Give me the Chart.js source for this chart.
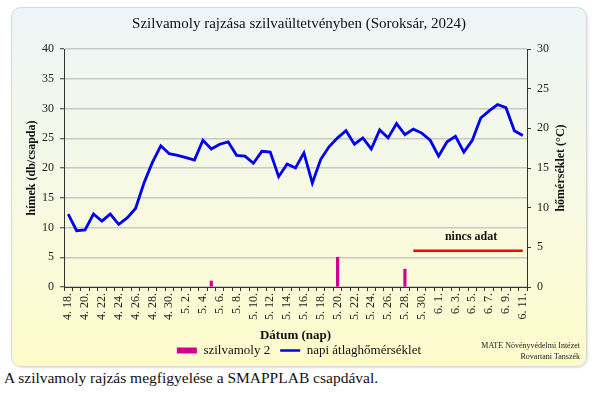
<!DOCTYPE html>
<html lang="hu">
<head>
<meta charset="utf-8">
<script src="https://cdn.jsdelivr.net/npm/chart.js@4.4.1/dist/chart.umd.min.js"></script>
<style>
  html, body { margin: 0; padding: 0; background: #fff; }
  body { width: 605px; height: 393px; position: relative; overflow: hidden; font-family: "Liberation Serif", serif; }
  #frame {
    position: absolute; left: 11px; top: 7px; width: 576px; height: 360px;
    box-sizing: border-box; border: 1px solid #d9d9d9; border-radius: 10px;
    background: linear-gradient(to bottom, #edf5f8 0%, #f6f9e4 50%, #fefccb 100%);
    box-shadow: 1px 1px 2px rgba(0,0,0,0.12);
  }
  #chartBox { position: absolute; left: 11px; top: 7px; width: 576px; height: 360px; }
  #credit {
    position: absolute; right: 25px; top: 340px; text-align: right;
    font-size: 8px; line-height: 11px; color: #222;
  }
  #caption {
    position: absolute; left: 4px; top: 369px; font-size: 15.5px; color: #111; white-space: nowrap;
  }
</style>
</head>
<body>
<div id="frame"></div>
<div id="chartBox"><canvas id="mothChart" width="576" height="360"></canvas></div>
<div id="credit">MATE Növényvédelmi Intézet<br>Rovartani Tanszék</div>
<div id="caption">A szilvamoly rajzás megfigyelése a SMAPPLAB csapdával.</div>

<script>
const FONT = '"Liberation Serif", "Times New Roman", serif';

// napok 4.18 - 6.11
const dates = [
  '4. 18.', '4. 19.', '4. 20.', '4. 21.', '4. 22.', '4. 23.', '4. 24.', '4. 25.', '4. 26.', '4. 27.',
  '4. 28.', '4. 29.', '4. 30.', '5. 1.', '5. 2.', '5. 3.', '5. 4.', '5. 5.', '5. 6.', '5. 7.',
  '5. 8.', '5. 9.', '5. 10.', '5. 11.', '5. 12.', '5. 13.', '5. 14.', '5. 15.', '5. 16.', '5. 17.',
  '5. 18.', '5. 19.', '5. 20.', '5. 21.', '5. 22.', '5. 23.', '5. 24.', '5. 25.', '5. 26.', '5. 27.',
  '5. 28.', '5. 29.', '5. 30.', '5. 31.', '6. 1.', '6. 2.', '6. 3.', '6. 4.', '6. 5.', '6. 6.',
  '6. 7.', '6. 8.', '6. 9.', '6. 10.', '6. 11.'
];

// szilvamoly 2 fogás (db/csapda)
const mothCounts = [
  null, null, null, null, null, null, null, null, null, null,
  null, null, null, null, null, null, null, 1, null, null,
  null, null, null, null, null, null, null, null, null, null,
  null, null, 5, null, null, null, null, null, null, null,
  3, null, null, null, null, null, null, null, null, null,
  null, null, null, null, null
];

// napi átlaghőmérséklet (°C)
const dailyTemp = [
  9.2, 7.1, 7.2, 9.2, 8.3, 9.2, 7.9, 8.7, 9.9, 13.1,
  15.7, 17.8, 16.8, 16.6, 16.3, 16.0, 18.5, 17.4, 18.0, 18.3,
  16.6, 16.5, 15.6, 17.1, 17.0, 13.9, 15.5, 15.0, 16.9, 13.1,
  16.1, 17.7, 18.8, 19.7, 18.0, 18.8, 17.4, 19.8, 18.8, 20.6,
  19.2, 19.9, 19.4, 18.5, 16.5, 18.3, 19.0, 17.0, 18.5, 21.3,
  22.2, 23.0, 22.6, 19.7, 19.1
];

// "nincs adat" szakasz (5.29 - 6.11)
const noDataFrom = 41;
const noDataTo = 54;
const noDataLevel = 6.1;
const noDataLabel = 'nincs adat';

const leftTicks = [0, 40, 5];   // min, max, step
const rightTicks = [0, 30, 5];

const barColor = '#d0008f';
const lineColor = '#0000f0';

function noDataLine() {
  return dates.map((d, i) => (i === noDataFrom || i === noDataTo) ? noDataLevel : null);
}

const extraTextPlugin = {
  id: 'extraText',
  afterDraw: (chart) => {
    const ctx = chart.ctx;
    const x = chart.scales.x;
    const y = chart.scales.y;
    const y1 = chart.scales.y1;
    ctx.save();
    ctx.fillStyle = '#111';
    ctx.textAlign = 'center';
    ctx.textBaseline = 'middle';
    ctx.font = 'bold 12px ' + FONT;
    const lx = (x.getPixelForValue(noDataFrom) + x.getPixelForValue(noDataTo)) / 2 + 3;
    ctx.fillText(noDataLabel, lx, y.getPixelForValue(noDataLevel) - 14);

    // jobb tengely címe alulról felfelé olvasható
    ctx.translate(y1.right - 26, (y1.top + y1.bottom) / 2);
    ctx.rotate(-Math.PI / 2);
    ctx.fillText('hőmérséklet (°C)', 0, 0);
    ctx.restore();
  }
};

function createChart(ctx) {
  return new Chart(ctx, {
    type: 'bar',
    data: {
      labels: dates,
      datasets: [
        {
          type: 'bar',
          label: 'szilvamoly 2',
          data: mothCounts,
          backgroundColor: barColor,
          borderWidth: 0,
          barThickness: 2.5,
          yAxisID: 'y',
          order: 2
        },
        {
          type: 'line',
          label: 'napi átlaghőmérséklet',
          data: dailyTemp,
          borderColor: lineColor,
          backgroundColor: lineColor,
          borderWidth: 2.8,
          pointRadius: 0,
          tension: 0,
          yAxisID: 'y1',
          order: 1
        },
        {
          type: 'line',
          label: noDataLabel,
          data: noDataLine(),
          borderColor: '#ff0000',
          borderWidth: 2.5,
          pointRadius: 0,
          spanGaps: true,
          yAxisID: 'y',
          order: 0
        }
      ]
    },
    options: {
      responsive: false,
      animation: false,
      layout: { padding: 0 },
      plugins: {
        title: {
          display: true,
          text: 'Szilvamoly rajzása szilvaültetvényben (Soroksár, 2024)',
          color: '#111',
          font: { family: FONT, size: 15, weight: 'normal' },
          padding: { top: 8, bottom: 16 }
        },
        legend: {
          position: 'bottom',
          labels: {
            color: '#111',
            font: { family: FONT, size: 13 },
            usePointStyle: true,
            pointStyleWidth: 20,
            padding: 10,
            generateLabels: (chart) => {
              const items = Chart.defaults.plugins.legend.labels.generateLabels(chart);
              return items
                .filter(item => item.datasetIndex !== 2)
                .sort((a, b) => a.datasetIndex - b.datasetIndex)
                .map(item => ({
                  ...item,
                  pointStyle: 'line',
                  strokeStyle: item.datasetIndex === 0 ? barColor : lineColor,
                  lineWidth: item.datasetIndex === 0 ? 6 : 2.5
                }));
            }
          }
        },
        tooltip: { enabled: false }
      },
      scales: {
        x: {
          offset: true,
          grid: { drawOnChartArea: false, offset: true, tickLength: 4, tickColor: '#333', tickWidth: 1 },
          border: { color: '#333', width: 1 },
          ticks: {
            autoSkip: false,
            minRotation: 90,
            maxRotation: 90,
            padding: 2,
            color: '#222',
            font: { family: FONT, size: 12 },
            callback: (value, index) => index % 2 === 0 ? dates[index] : ''
          },
          title: {
            display: true,
            text: 'Dátum (nap)',
            color: '#111',
            font: { family: FONT, size: 13, weight: 'bold', lineHeight: 1 },
            padding: { top: 0, bottom: -8 }
          },
          afterFit: (scale) => { scale.height = 47; }
        },
        y: {
          position: 'left',
          min: leftTicks[0],
          max: leftTicks[1],
          ticks: { stepSize: leftTicks[2], color: '#222', font: { family: FONT, size: 12 }, padding: 6 },
          grid: { color: '#c8c8c8', lineWidth: 1.5, tickColor: '#333', tickWidth: 1, tickLength: 4 },
          border: { color: '#333', width: 1 },
          title: {
            display: true,
            text: 'hímek (db/csapda)',
            color: '#111',
            font: { family: FONT, size: 12, weight: 'bold' },
            padding: { top: 14 }
          },
          afterFit: (scale) => { scale.width = 53; }
        },
        y1: {
          position: 'right',
          min: rightTicks[0],
          max: rightTicks[1],
          ticks: { stepSize: rightTicks[2], color: '#222', font: { family: FONT, size: 12 }, padding: 6 },
          grid: { drawOnChartArea: false, tickColor: '#333', tickWidth: 1, tickLength: 4 },
          border: { color: '#333', width: 1 },
          afterFit: (scale) => { scale.width = 60; }
        }
      }
    },
    plugins: [extraTextPlugin]
  });
}

window.addEventListener('DOMContentLoaded', () => {
  const ctx = document.getElementById('mothChart').getContext('2d');
  createChart(ctx);
});
</script>
</body>
</html>
